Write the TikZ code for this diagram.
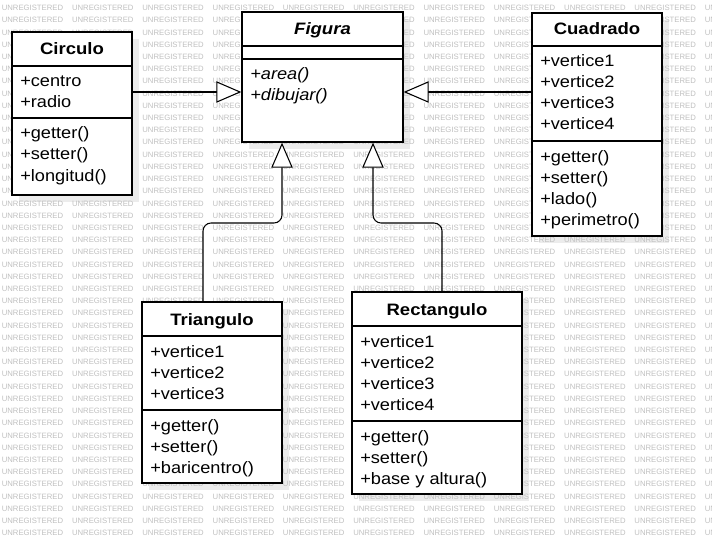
\documentclass[tikz,border=0pt]{standalone}
\usepackage{fontspec}
\setmainfont{Liberation Sans}
\newfontfamily\umlfont[FakeStretch=1.1]{Liberation Sans}
\newfontfamily\ttlfont[FakeStretch=1.12]{Liberation Sans}
\usetikzlibrary{arrows.meta}
\definecolor{wmgray}{RGB}{192,192,192}
\definecolor{shadowgray}{RGB}{236,236,236}
\begin{document}
\begin{tikzpicture}[x=0.75pt,y=-0.75pt,
  wm/.style={anchor=west, inner sep=0pt, text=wmgray, font=\fontsize{5.8}{6}\selectfont},
  cls/.style={draw=black, line width=1pt, fill=white, inner sep=0pt},
  sep/.style={draw=black, line width=1pt},
  ttl/.style={anchor=base, inner sep=0pt, font=\ttlfont\fontsize{12.4}{14}\selectfont\bfseries},
  item/.style={anchor=base west, inner sep=0pt, font=\umlfont\fontsize{12.4}{14}\selectfont},
  inh/.style={draw=black, line width=0.8pt, rounded corners=6pt,
    -{Triangle[fill=white, length=18.75pt, width=16pt]}}]
\useasboundingbox (0,0) rectangle (712,545);
\fill[white] (0,0) rectangle (712,545);
% shadows
\foreach \l/\t/\r/\b in {12/32/132/195, 242/12/403/142, 532/13/662/236, 142/302/282/483, 352/292/522/494}
  \fill[shadowgray] (\l+7,\t+7) rectangle (\r+7,\b+7);
% watermark
\begin{scope}
\clip (0,0) rectangle (712,545);
\foreach \i in {0,...,43}
  \foreach \j in {0,...,10}
    \node[wm] (wm-\i-\j) at ({1.5+70.3*\j},{8+12.21*\i}) {UNREGISTERED};
\end{scope}
% class boxes
\node[cls, minimum width=120*0.75pt, minimum height=163*0.75pt] (circulo) at (72,113.5) {};
\node[cls, minimum width=161*0.75pt, minimum height=130*0.75pt] (figura) at (322.5,77) {};
\node[cls, minimum width=130*0.75pt, minimum height=223*0.75pt] (cuadrado) at (597,124.5) {};
\node[cls, minimum width=140*0.75pt, minimum height=181*0.75pt] (triangulo) at (212,392.5) {};
\node[cls, minimum width=170*0.75pt, minimum height=202*0.75pt] (rectangulo) at (437,393) {};
% Circulo
\draw[sep] (12,66) -- (132,66);
\draw[sep] (12,118) -- (132,118);
\node[ttl] (c-t) at (72,55) {Circulo};
\node[item] (c-a1) at (20,87) {+centro};
\node[item] (c-a2) at (20,108) {+radio};
\node[item] (c-m1) at (20,139) {+getter()};
\node[item] (c-m2) at (20,160) {+setter()};
\node[item] (c-m3) at (20,181) {+longitud()};
% Figura
\draw[sep] (242,46) -- (403,46);
\draw[sep] (242,59) -- (403,59);
\node[ttl, font=\ttlfont\fontsize{12.4}{14}\selectfont\bfseries\itshape] (f-t) at (322.5,35) {Figura};
\node[item, font=\umlfont\fontsize{12.4}{14}\selectfont\itshape] (f-m1) at (250,80) {+area()};
\node[item, font=\umlfont\fontsize{12.4}{14}\selectfont\itshape] (f-m2) at (250,101) {+dibujar()};
% Cuadrado
\draw[sep] (532,46) -- (662,46);
\draw[sep] (532,141) -- (662,141);
\node[ttl] (q-t) at (597,35) {Cuadrado};
\node[item] (q-a1) at (540,67) {+vertice1};
\node[item] (q-a2) at (540,88) {+vertice2};
\node[item] (q-a3) at (540,109) {+vertice3};
\node[item] (q-a4) at (540,130) {+vertice4};
\node[item] (q-m1) at (540,162) {+getter()};
\node[item] (q-m2) at (540,183) {+setter()};
\node[item] (q-m3) at (540,204) {+lado()};
\node[item] (q-m4) at (540,225) {+perimetro()};
% Triangulo
\draw[sep] (142,336) -- (282,336);
\draw[sep] (142,410) -- (282,410);
\node[ttl] (t-t) at (212,325) {Triangulo};
\node[item] (t-a1) at (150,357) {+vertice1};
\node[item] (t-a2) at (150,378) {+vertice2};
\node[item] (t-a3) at (150,399) {+vertice3};
\node[item] (t-m1) at (150,431) {+getter()};
\node[item] (t-m2) at (150,452) {+setter()};
\node[item] (t-m3) at (150,473) {+baricentro()};
% Rectangulo
\draw[sep] (352,326) -- (522,326);
\draw[sep] (352,421) -- (522,421);
\node[ttl] (r-t) at (437,315) {Rectangulo};
\node[item] (r-a1) at (360,347) {+vertice1};
\node[item] (r-a2) at (360,368) {+vertice2};
\node[item] (r-a3) at (360,389) {+vertice3};
\node[item] (r-a4) at (360,410) {+vertice4};
\node[item] (r-m1) at (360,442) {+getter()};
\node[item] (r-m2) at (360,463) {+setter()};
\node[item] (r-m3) at (360,484) {+base y altura()};
% inheritance
\draw[inh] (circulo.east |- 0,92) -- (figura.west |- 0,92);
\draw[inh] (cuadrado.west |- 0,92) -- (figura.east |- 0,92);
\draw[inh] (triangulo.north -| 203,0) -- (203,223) -- (282,223) -- (figura.south -| 282,0);
\draw[inh] (rectangulo.north -| 442,0) -- (442,223) -- (373,223) -- (figura.south -| 373,0);
\end{tikzpicture}
\end{document}
